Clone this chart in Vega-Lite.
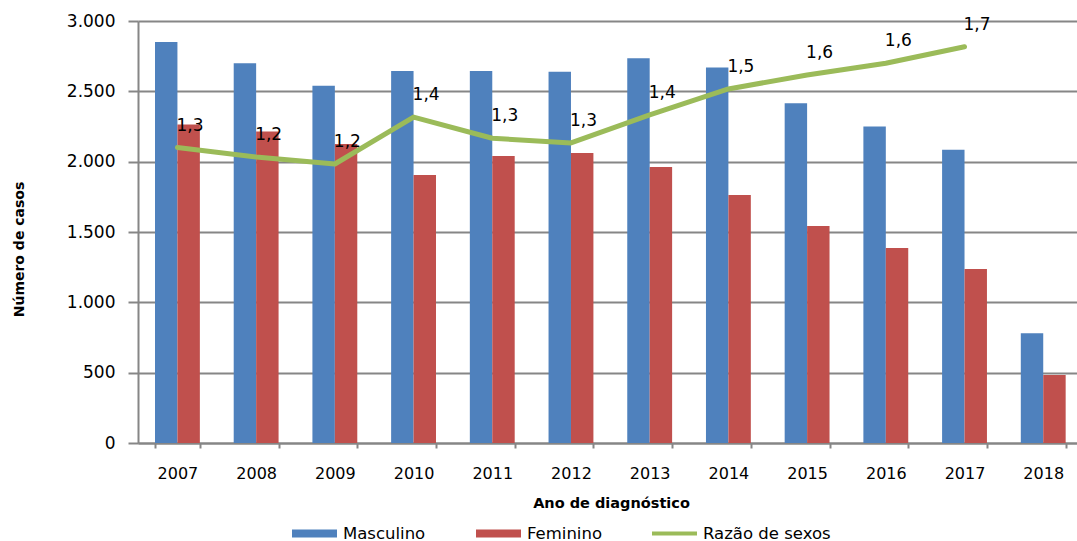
{
  "$schema": "https://vega.github.io/schema/vega-lite/v6.json",
  "width": 939,
  "height": 422,
  "autosize": {"type": "none"},
  "padding": {"left": 138, "top": 21, "right": 0, "bottom": 98},
  "background": "white",
  "config": {
    "locale": {"number": {"decimal": ",", "thousands": ".", "grouping": [3], "currency": ["R$", ""]}},
    "view": {"stroke": null},
    "font": "DejaVu Sans",
    "axis": {
      "domainColor": "#868686",
      "domainWidth": 2,
      "tickColor": "#868686",
      "tickWidth": 2,
      "gridColor": "#868686",
      "gridWidth": 2,
      "labelColor": "#000000",
      "titleColor": "#000000",
      "labelFont": "DejaVu Sans",
      "titleFont": "DejaVu Sans"
    }
  },
  "datasets": {
    "casos": [
      {"ano": 2007, "sexo": "Masculino", "casos": 2850},
      {"ano": 2008, "sexo": "Masculino", "casos": 2700},
      {"ano": 2009, "sexo": "Masculino", "casos": 2540},
      {"ano": 2010, "sexo": "Masculino", "casos": 2645},
      {"ano": 2011, "sexo": "Masculino", "casos": 2645},
      {"ano": 2012, "sexo": "Masculino", "casos": 2640},
      {"ano": 2013, "sexo": "Masculino", "casos": 2735},
      {"ano": 2014, "sexo": "Masculino", "casos": 2670},
      {"ano": 2015, "sexo": "Masculino", "casos": 2415},
      {"ano": 2016, "sexo": "Masculino", "casos": 2250},
      {"ano": 2017, "sexo": "Masculino", "casos": 2085},
      {"ano": 2018, "sexo": "Masculino", "casos": 780},
      {"ano": 2007, "sexo": "Feminino", "casos": 2265},
      {"ano": 2008, "sexo": "Feminino", "casos": 2215},
      {"ano": 2009, "sexo": "Feminino", "casos": 2125},
      {"ano": 2010, "sexo": "Feminino", "casos": 1905},
      {"ano": 2011, "sexo": "Feminino", "casos": 2040},
      {"ano": 2012, "sexo": "Feminino", "casos": 2062},
      {"ano": 2013, "sexo": "Feminino", "casos": 1962},
      {"ano": 2014, "sexo": "Feminino", "casos": 1763},
      {"ano": 2015, "sexo": "Feminino", "casos": 1543},
      {"ano": 2016, "sexo": "Feminino", "casos": 1386},
      {"ano": 2017, "sexo": "Feminino", "casos": 1237},
      {"ano": 2018, "sexo": "Feminino", "casos": 483}
    ],
    "razao": [
      {"ano": 2007, "razao": 1.26},
      {"ano": 2008, "razao": 1.22},
      {"ano": 2009, "razao": 1.19},
      {"ano": 2010, "razao": 1.39},
      {"ano": 2011, "razao": 1.30},
      {"ano": 2012, "razao": 1.28},
      {"ano": 2013, "razao": 1.40},
      {"ano": 2014, "razao": 1.51},
      {"ano": 2015, "razao": 1.57},
      {"ano": 2016, "razao": 1.62},
      {"ano": 2017, "razao": 1.69}
    ]
  },
  "layer": [
    {
      "data": {"name": "casos"},
      "mark": {"type": "bar"},
      "encoding": {
        "x": {
          "field": "ano",
          "type": "ordinal",
          "scale": {"paddingInner": 0.43, "paddingOuter": 0.18, "align": 0.6},
          "title": "Ano de diagnóstico",
          "axis": {
            "labelAngle": 0,
            "labelFontSize": 16,
            "labelPadding": 17,
            "tickSize": 5,
            "tickBand": "extent",
            "titleFontSize": 14.5,
            "titleFontWeight": "bold",
            "titleX": 473,
            "titleY": 64,
            "titleAlign": "center",
            "titleBaseline": "alphabetic",
            "grid": false
          }
        },
        "xOffset": {
          "field": "sexo",
          "type": "nominal",
          "scale": {"domain": ["Masculino", "Feminino"], "paddingInner": 0, "paddingOuter": 0}
        },
        "y": {
          "field": "casos",
          "type": "quantitative",
          "scale": {"domain": [0, 3000], "nice": false},
          "title": "Número de casos",
          "axis": {
            "values": [0, 500, 1000, 1500, 2000, 2500, 3000],
            "format": ",.0f",
            "labelFontSize": 17,
            "labelPadding": 13,
            "tickSize": 10,
            "grid": true,
            "titleFontSize": 14,
            "titleFontWeight": "bold",
            "titleAngle": -90,
            "titleX": -119,
            "titleY": 228,
            "titleAlign": "center",
            "titleBaseline": "middle"
          }
        },
        "color": {
          "field": "sexo",
          "type": "nominal",
          "scale": {
            "domain": ["Masculino", "Feminino", "Razão de sexos"],
            "range": ["#4F81BD", "#C0504D", "#9BBB59"]
          },
          "legend": {
            "orient": "none",
            "direction": "horizontal",
            "legendX": 154,
            "legendY": 490,
            "title": null,
            "symbolType": "M-1,-0.18H1V0.18H-1Z",
            "symbolSize": 2025,
            "symbolStrokeWidth": 0,
            "labelFontSize": 16.5,
            "labelColor": "#000000",
            "labelOffset": 6,
            "columnPadding": 50,
            "encode": {
              "symbols": {
                "update": {
                  "shape": {"signal": "datum.value === 'Razão de sexos' ? 'M-1,-0.09H1V0.09H-1Z' : 'M-1,-0.18H1V0.18H-1Z'"}
                }
              }
            }
          }
        }
      }
    },
    {
      "data": {"name": "razao"},
      "encoding": {
        "x": {"field": "ano", "type": "ordinal"},
        "y": {
          "field": "razao",
          "type": "quantitative",
          "scale": {"domain": [0, 1.8], "nice": false},
          "axis": null
        }
      },
      "layer": [
        {
          "mark": {"type": "line", "color": "#9BBB59", "strokeWidth": 5, "strokeCap": "round", "strokeJoin": "round"}
        },
        {
          "mark": {"type": "text", "align": "left", "baseline": "middle", "dx": -1, "dy": -22, "fontSize": 17, "color": "#000000", "font": "DejaVu Sans"},
          "encoding": {
            "text": {"field": "razao", "type": "quantitative", "format": ".1f"}
          }
        }
      ]
    }
  ],
  "resolve": {"scale": {"y": "independent"}}
}
